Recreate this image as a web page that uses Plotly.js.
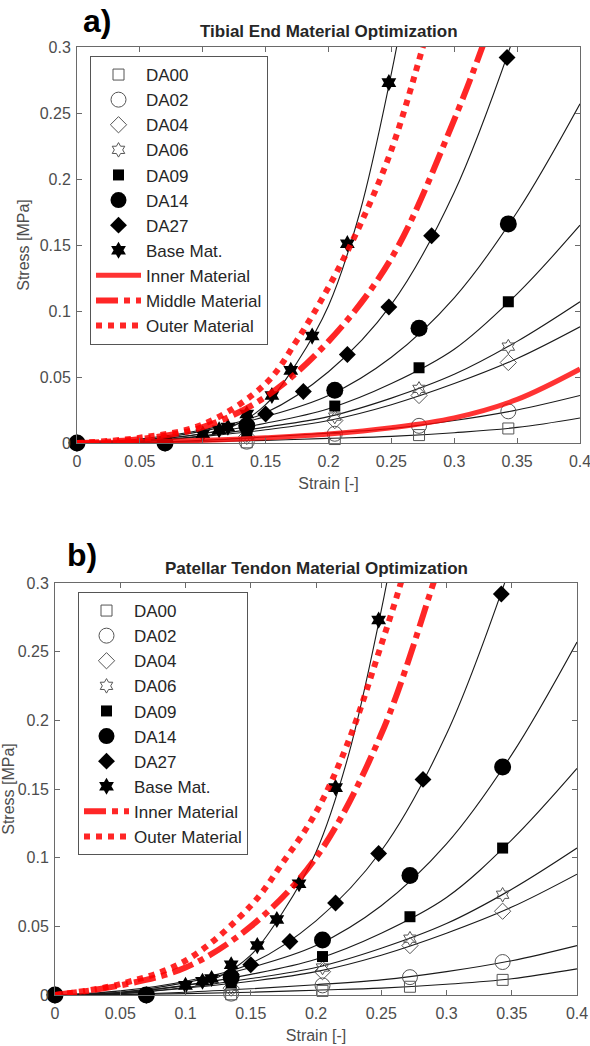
<!DOCTYPE html>
<html><head><meta charset="utf-8">
<script src="https://cdn.plot.ly/plotly-3.0.1.min.js"></script>
<style>html,body{margin:0;padding:0;background:#fff}#chart{width:590px;height:1046px}</style>
</head><body><div id="chart"></div>
<script>
// ---- experimental data (same in both panels) ----
const seriesNames = ['DA00','DA02','DA04','DA06','DA09','DA14','DA27','Base Mat.'];
const expStrain = [0, 0.07, 0.135, 0.205, 0.272, 0.343];
const da00 = [0, 0, 0.0005, 0.003, 0.006, 0.011];
const da02 = [0, 0, 0.001, 0.007, 0.013, 0.024];
const da04 = [0, 0, 0.005, 0.017, 0.036, 0.061];
const da06 = [0, 0, 0.006, 0.020, 0.041, 0.073];
const da09 = [0, 0, 0.009, 0.028, 0.057, 0.107];
const da14 = [0, 0, 0.013, 0.040, 0.087, 0.166];
const da27Strain = [0, 0.07, 0.135, 0.15, 0.18, 0.215, 0.248, 0.282, 0.342];
const da27 = [0, 0, 0.015, 0.022, 0.039, 0.067, 0.103, 0.157, 0.292];
const baseStrain = [0, 0.07, 0.10, 0.113, 0.12, 0.135, 0.155, 0.17, 0.187, 0.215, 0.248];
const baseMat = [0, 0, 0.007, 0.010, 0.012, 0.022, 0.036, 0.055, 0.081, 0.151, 0.273];

// ---- fitted curves ----
const fitStrain = [0, 0.05, 0.1, 0.15, 0.2, 0.25, 0.3, 0.35, 0.4];
const fitDA00 = [0, 0.0003, 0.001, 0.002, 0.0035, 0.005, 0.0078, 0.0118, 0.019];
const fitDA02 = [0, 0.0005, 0.002, 0.0045, 0.0075, 0.011, 0.017, 0.025, 0.036];
const fitDA04 = [0, 0.001, 0.005, 0.010, 0.017, 0.029, 0.045, 0.064, 0.088];
const fitDA06 = [0, 0.0012, 0.0055, 0.012, 0.020, 0.034, 0.052, 0.077, 0.107];
const fitDA09 = [0, 0.0015, 0.007, 0.015, 0.026, 0.045, 0.071, 0.113, 0.165];
const fitDA14 = [0, 0.002, 0.009, 0.020, 0.036, 0.065, 0.110, 0.175, 0.257];
const fitDA27Strain = [0, 0.05, 0.1, 0.15, 0.2, 0.25, 0.3, 0.35];
const fitDA27 = [0, 0.003, 0.010, 0.023, 0.054, 0.105, 0.19, 0.315];
const fitBaseStrain = [0, 0.05, 0.1, 0.125, 0.15, 0.175, 0.2, 0.225, 0.25, 0.26];
const fitBase = [0, 0.002, 0.007, 0.013, 0.029, 0.061, 0.104, 0.175, 0.28, 0.33];

// ---- optimised materials, panel a ----
const innerAStrain = [0, 0.05, 0.1, 0.15, 0.2, 0.25, 0.3, 0.35, 0.4];
const innerA = [0, 0.001, 0.002, 0.004, 0.0068, 0.0115, 0.019, 0.033, 0.056];
const middleAStrain = [0, 0.05, 0.1, 0.15, 0.2, 0.25, 0.3, 0.33];
const middleA = [0, 0.003, 0.012, 0.035, 0.077, 0.14, 0.245, 0.32];
const outerAStrain = [0, 0.05, 0.1, 0.15, 0.175, 0.2, 0.225, 0.25, 0.275, 0.285];
const outerA = [0, 0.004, 0.014, 0.045, 0.078, 0.118, 0.165, 0.222, 0.30, 0.335];

// ---- optimised materials, panel b ----
const innerBStrain = [0, 0.05, 0.1, 0.15, 0.2, 0.25, 0.29, 0.3];
const innerB = [0, 0.007, 0.020, 0.050, 0.100, 0.19, 0.30, 0.33];
const outerBStrain = [0, 0.05, 0.1, 0.15, 0.175, 0.2, 0.225, 0.25, 0.265, 0.275];
const outerB = [0, 0.008, 0.025, 0.065, 0.097, 0.133, 0.185, 0.255, 0.30, 0.335];

const panelTitles = ['Tibial End Material Optimization', 'Patellar Tendon Material Optimization'];
const panelLetters = ['a)', 'b)'];
const xTicks = [0, 0.05, 0.1, 0.15, 0.2, 0.25, 0.3, 0.35, 0.4];
const yTicks = [0, 0.05, 0.1, 0.15, 0.2, 0.25, 0.3];

const expX = [expStrain, expStrain, expStrain, expStrain, expStrain, expStrain, da27Strain, baseStrain];
const expY = [da00, da02, da04, da06, da09, da14, da27, baseMat];
const fitX = [fitStrain, fitStrain, fitStrain, fitStrain, fitStrain, fitStrain, fitDA27Strain, fitBaseStrain];
const fitY = [fitDA00, fitDA02, fitDA04, fitDA06, fitDA09, fitDA14, fitDA27, fitBase];

const gray = '#555555';
const markerStyles = [
  {symbol: 'square-open', size: 11, color: gray, line: {width: 1, color: gray}},
  {symbol: 'circle-open', size: 15, color: gray, line: {width: 1, color: gray}},
  {symbol: 'diamond-open', size: 12.5, color: gray, line: {width: 1, color: gray}},
  {symbol: 'hexagram-open', size: 11, color: gray, line: {width: 1, color: gray}},
  {symbol: 'square', size: 11, color: '#000', line: {width: 0}},
  {symbol: 'circle', size: 17, color: '#000', line: {width: 0}},
  {symbol: 'diamond', size: 13, color: '#000', line: {width: 0}},
  {symbol: 'hexagram', size: 13, color: '#000', line: {width: 0}}
];

const traces = [];
const panels = [
  {xa: 'x', ya: 'y', legend: 'legend'},
  {xa: 'x2', ya: 'y2', legend: 'legend2'}
];
panels.forEach((p) => {
  for (let i = 0; i < fitX.length; i++) {
    traces.push({x: fitX[i], y: fitY[i], mode: 'lines', xaxis: p.xa, yaxis: p.ya,
      line: {color: '#1a1a1a', width: 1.1, shape: 'spline', smoothing: 1},
      showlegend: false, hoverinfo: 'skip', legend: p.legend});
  }
  for (let i = 0; i < expX.length; i++) {
    traces.push({x: expX[i], y: expY[i], mode: 'markers', name: seriesNames[i],
      xaxis: p.xa, yaxis: p.ya, marker: markerStyles[i], legend: p.legend, cliponaxis: false});
  }
});
const red = 'rgba(255,0,0,0.85)';
// panel a red curves
traces.push({x: innerAStrain, y: innerA, mode: 'lines', name: 'Inner Material', xaxis: 'x', yaxis: 'y',
  legend: 'legend', line: {color: 'rgba(255,0,0,0.8)', width: 5, shape: 'spline'}});
traces.push({x: middleAStrain, y: middleA, mode: 'lines', name: 'Middle Material', xaxis: 'x', yaxis: 'y',
  legend: 'legend', line: {color: red, width: 6, shape: 'spline', dash: '22px,6px,6px,6px'}});
traces.push({x: outerAStrain, y: outerA, mode: 'lines', name: 'Outer Material', xaxis: 'x', yaxis: 'y',
  legend: 'legend', line: {color: red, width: 6, shape: 'spline', dash: '6px,6px'}});
// panel b red curves
traces.push({x: innerBStrain, y: innerB, mode: 'lines', name: 'Inner Material', xaxis: 'x2', yaxis: 'y2',
  legend: 'legend2', line: {color: red, width: 6, shape: 'spline', dash: '22px,6px,6px,6px'}});
traces.push({x: outerBStrain, y: outerB, mode: 'lines', name: 'Outer Material', xaxis: 'x2', yaxis: 'y2',
  legend: 'legend2', line: {color: red, width: 6, shape: 'spline', dash: '6px,6px'}});

const W = 590, H = 1046;
const FONT = 'Liberation Sans, Arial, sans-serif';
const axisCommon = {
  showline: true, linecolor: '#6a6a6a', linewidth: 1, mirror: 'ticks',
  ticks: 'inside', ticklen: 5, tickcolor: '#6a6a6a', showgrid: false, zeroline: false,
  ticklabeloverflow: 'allow',
  tickfont: {family: FONT, size: 16, color: '#4d4d4d'}
};
function xax(domain, anchor) {
  return Object.assign({}, axisCommon, {domain: domain, anchor: anchor, range: [0, 0.4],
    tickvals: xTicks, ticktext: xTicks.map(String), ticklabelstandoff: 4,
    title: {text: 'Strain [-]', standoff: 8, font: {family: FONT, size: 16, color: '#4d4d4d'}}});
}
function yax(domain, anchor, standoff) {
  return Object.assign({}, axisCommon, {domain: domain, anchor: anchor, range: [0, 0.3],
    tickvals: yTicks, ticktext: yTicks.map(String), ticklabelstandoff: 2,
    title: {text: 'Stress [MPa]', standoff: standoff, font: {family: FONT, size: 16, color: '#4d4d4d'}}});
}
const legendCommon = {
  xref: 'paper', yref: 'paper', xanchor: 'left', yanchor: 'top',
  bgcolor: '#ffffff', bordercolor: '#555555', borderwidth: 1,
  font: {family: FONT, size: 17, color: '#262626'},
  itemwidth: 45, tracegroupgap: 0
};
const layout = {
  width: W, height: H, margin: {l: 0, r: 0, t: 0, b: 0},
  paper_bgcolor: '#fff', plot_bgcolor: '#fff', showlegend: true,
  xaxis: xax([77 / W, 580 / W], 'y'),
  yaxis: yax([1 - 443 / H, 1 - 47 / H], 'x', 6),
  xaxis2: xax([55 / W, 577 / W], 'y2'),
  yaxis2: yax([1 - 995 / H, 1 - 583 / H], 'x2', 4),
  legend: Object.assign({}, legendCommon, {x: 90 / W, y: 1 - 56 / H}),
  legend2: Object.assign({}, legendCommon, {x: 78 / W, y: 1 - 592 / H}),
  annotations: [
    {text: '<b>' + panelTitles[0] + '</b>', xref: 'paper', yref: 'paper', x: 329 / W, y: 1 - 32 / H,
      xanchor: 'center', yanchor: 'middle', showarrow: false, font: {family: FONT, size: 17, color: '#262626'}},
    {text: '<b>' + panelTitles[1] + '</b>', xref: 'paper', yref: 'paper', x: 316 / W, y: 1 - 568 / H,
      xanchor: 'center', yanchor: 'middle', showarrow: false, font: {family: FONT, size: 17, color: '#262626'}},
    {text: '<b>' + panelLetters[0] + '</b>', xref: 'paper', yref: 'paper', x: 97 / W, y: 1 - 21 / H,
      xanchor: 'center', yanchor: 'middle', showarrow: false, font: {family: FONT, size: 32, color: '#000'}},
    {text: '<b>' + panelLetters[1] + '</b>', xref: 'paper', yref: 'paper', x: 82 / W, y: 1 - 555 / H,
      xanchor: 'center', yanchor: 'middle', showarrow: false, font: {family: FONT, size: 32, color: '#000'}}
  ]
};
Plotly.newPlot('chart', traces, layout, {displayModeBar: false, responsive: false});
</script></body></html>
